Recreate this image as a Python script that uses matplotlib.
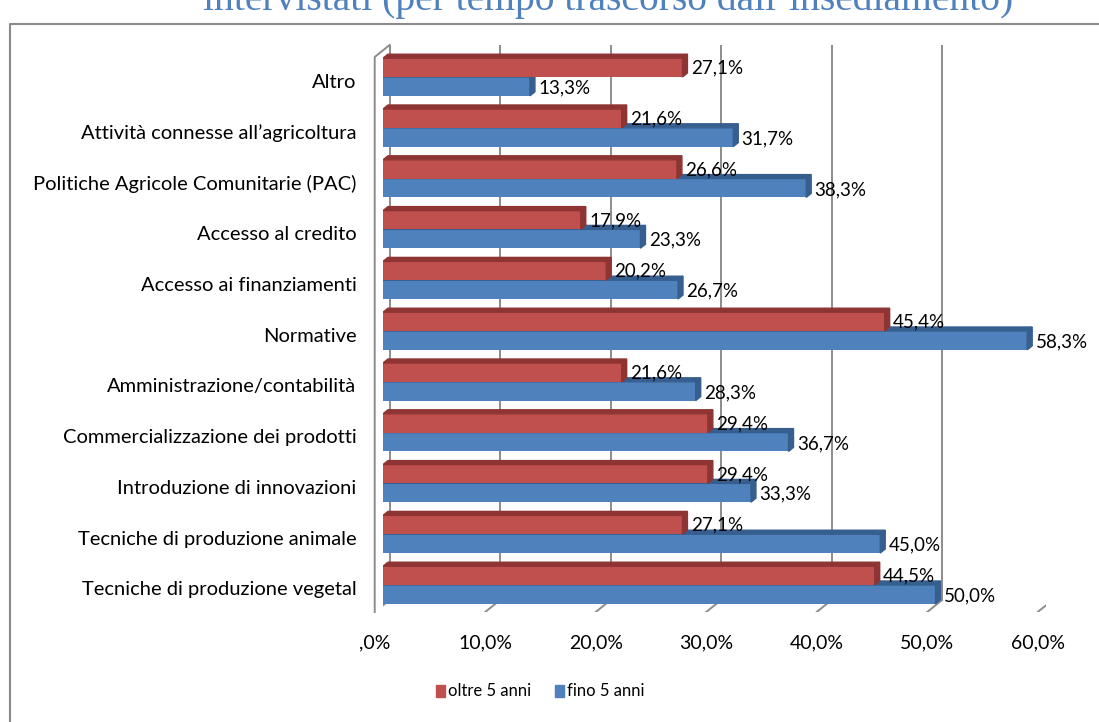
import matplotlib.pyplot as plt
from matplotlib.patches import Polygon
from matplotlib.lines import Line2D

categories = [
    "Altro",
    "Attività connesse all\u2019agricoltura",
    "Politiche Agricole Comunitarie (PAC)",
    "Accesso al credito",
    "Accesso ai finanziamenti",
    "Normative",
    "Amministrazione/contabilità",
    "Commercializzazione dei prodotti",
    "Introduzione di innovazioni",
    "Tecniche di produzione animale",
    "Tecniche di produzione vegetal",
]
oltre_5 = [27.1, 21.6, 26.6, 17.9, 20.2, 45.4, 21.6, 29.4, 29.4, 27.1, 44.5]
fino_5 = [13.3, 31.7, 38.3, 23.3, 26.7, 58.3, 28.3, 36.7, 33.3, 45.0, 50.0]
ticks = [0, 10, 20, 30, 40, 50, 60]
tick_labels = [",0%", "10,0%", "20,0%", "30,0%", "40,0%", "50,0%", "60,0%"]

RED, RED_DARK = "#C0504D", "#8E3533"
BLUE, BLUE_DARK = "#4F81BD", "#365F8F"
GRID = "#8C8C8C"
FONT = "Lato"

W, H = 1099, 722
fig = plt.figure(figsize=(W / 100, H / 100), dpi=100)

# chart frame and cut-off title
fig.add_artist(Line2D([10 / W, 10 / W, 1.0], [0.0, 1 - 24 / H, 1 - 24 / H],
                      color="#8A8A8A", lw=1.5))
fig.text(0.553, 1 - 10 / H, "intervistati (per tempo trascorso dall\u2019insediamento)",
         ha="center", va="baseline", fontsize=28.5, color="#4F81BD",
         family="Liberation Serif")

# axes: x=0 at 383px, 11.05 px per percent; category spacing 50.8px
x0, ppu = 383, 11.05
y_front, y_top = 612, 45
sp = 50.8
n = len(categories)
pos = list(range(n))[::-1]  # Altro at top
y_lo = -(y_front - 590) / sp
y_hi = (590 - y_top) / sp
ax = fig.add_axes([x0 / W, 1 - y_front / H, 60 * ppu / W, (y_front - y_top) / H])
ax.set_xlim(0, 60)
ax.set_ylim(y_lo, y_hi)
ax.axis("off")

# 3D frame: back wall gridlines, floor, left wall
front_off, back_off = -0.75, 0.6
y_back = y_lo + 12 / sp
for t in ticks:
    ax.plot([t + back_off] * 2, [y_back, y_hi], color=GRID, lw=1.4, zorder=0)
    ax.plot([t + front_off, t + back_off], [y_lo, y_back], color=GRID, lw=1.4, zorder=0)
ax.plot([front_off, front_off, back_off], [y_lo, y_hi - 12 / sp, y_hi],
        color=GRID, lw=1.4, zorder=0, clip_on=False)

bh = 0.37
shift = 5 / sp  # bar groups sit slightly above the label centre
dx, dy = 0.45, 4 / sp


def bar3d(v, yc, face, dark):
    b, t = yc - bh / 2, yc + bh / 2
    ax.barh(yc, v, height=bh, color=face, zorder=2)
    ax.add_patch(Polygon([(0, t), (v, t), (v + dx, t + dy), (dx, t + dy)],
                         closed=True, color=dark, zorder=2))
    ax.add_patch(Polygon([(v, b), (v, t), (v + dx, t + dy), (v + dx, b + dy)],
                         closed=True, color=dark, zorder=2))


for i, (p, r, b) in enumerate(zip(pos, oltre_5, fino_5)):
    yb = p + shift - bh / 2
    yr = p + shift + bh / 2
    bar3d(b, yb, BLUE, BLUE_DARK)
    bar3d(r, yr, RED, RED_DARK)
    ax.text(b + 0.75, yb - 0.03, f"{b:.1f}%".replace(".", ","),
            ha="left", va="center", fontsize=13.5, family=FONT, zorder=3)
    ax.text(r + 0.75, yr - 0.01, f"{r:.1f}%".replace(".", ","),
            ha="left", va="center", fontsize=13.5, family=FONT, zorder=3)
    ax.text(-2.4, p, categories[i], ha="right", va="center",
            fontsize=14.5, family=FONT, clip_on=False)

for t, lab in zip(ticks, tick_labels):
    ax.text(t + front_off, y_lo - 31 / sp, lab, ha="center", va="center",
            fontsize=14, family=FONT, clip_on=False)

# legend
for xs, col, lab in [(436, RED, "oltre 5 anni"), (555, BLUE, "fino 5 anni")]:
    fig.patches.append(plt.Rectangle((xs / W, 1 - 697 / H), 9 / W, 12 / H,
                                     color=col, transform=fig.transFigure))
    fig.text((xs + 12) / W, 1 - 691 / H, lab, ha="left", va="center",
             fontsize=12, family=FONT)

fig.savefig("out.png", dpi=100)
